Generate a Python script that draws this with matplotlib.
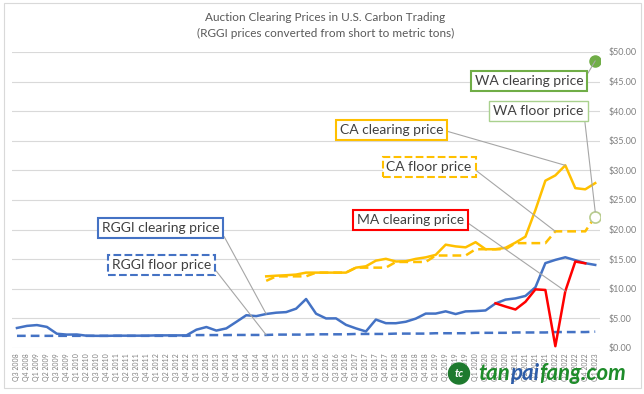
import matplotlib
matplotlib.use("Agg")
import matplotlib.pyplot as plt
import numpy as np
from matplotlib.patches import Rectangle, Circle
from matplotlib.offsetbox import TextArea, HPacker, AnchoredOffsetbox

plt.rcParams['font.family'] = ['Lato', 'DejaVu Sans']

# quarters Q3 2008 .. Q1 2023
quarters = []
for y in range(2008, 2024):
    for q in range(1, 5):
        if (y == 2008 and q < 3) or (y == 2023 and q > 1):
            continue
        quarters.append("Q%d %d" % (q, y))

# RGGI prices, $/metric ton
rggi_clear = [3.38, 3.73,
              3.87, 3.56, 2.41, 2.26,
              2.28, 2.07, 2.05, 2.05,
              2.08, 2.08, 2.08, 2.08,
              2.13, 2.13, 2.13, 2.13,
              3.09, 3.54, 2.94, 3.31,
              4.41, 5.53, 5.38, 5.74,
              5.96, 6.06, 6.64, 8.27,
              5.79, 4.99, 5.00, 3.91,
              3.31, 2.79, 4.80, 4.19,
              4.18, 4.43, 4.96, 5.81,
              5.81, 6.19, 5.73, 6.18,
              6.23, 6.34, 7.52, 8.17,
              8.38, 8.79, 10.25, 14.33,
              14.88, 15.32, 14.83, 14.32,
              14.03]
rggi_floor = [2.05] * 18 + [2.18] * 4 + [2.20] * 4 + [2.26] * 4 + [2.31] * 4 + \
             [2.37] * 4 + [2.43] * 4 + [2.49] * 4 + [2.56] * 4 + [2.62] * 4 + \
             [2.69] * 4 + [2.76]

# California (starts Q4 2014)
ca_start = 25
ca_clear = [12.10,
            12.21, 12.29, 12.40, 12.73,
            12.73, 12.73, 12.73, 12.73,
            13.57, 13.80, 14.75, 15.06,
            14.61, 14.65, 15.05, 15.31,
            15.73, 17.45, 17.16, 17.00,
            17.87, 16.68, 16.68, 16.92,
            17.80, 18.80, 23.30, 28.26,
            29.15, 30.85, 27.00, 26.80,
            27.85]
ca_floor = [11.34] + [12.10] * 4 + [12.73] * 4 + [13.57] * 4 + [14.53] * 4 + \
           [15.62] * 4 + [16.68] * 4 + [17.71] * 4 + [19.70] * 4 + [22.21]

# Massachusetts (starts Q3 2020)
ma_start = 48
ma_clear = [7.55, 7.0, 6.5, 7.8, 9.9, 9.8, 0.3, 9.6, 14.6, 14.3]

# Washington, Q1 2023
wa_clear = 48.50
wa_floor = 22.20

blue = '#4472c4'
yellow = '#ffc000'
red = '#ff0000'
green = '#70ad47'
txt = '#404040'

fig = plt.figure(figsize=(6.44, 3.94), dpi=100)
fig.patches.append(Rectangle((0.006, 0.015), 0.989, 0.978, transform=fig.transFigure,
                             fill=False, edgecolor='#d9d9d9', lw=0.8))
ax = fig.add_axes([0.0186, 0.1168, 0.9134, 0.7513])

x = np.arange(len(quarters))
x_ca = x[ca_start:ca_start + len(ca_clear)]
x_ma = x[ma_start:ma_start + len(ma_clear)]

ax.plot(x, rggi_floor, color=blue, lw=1.8, dashes=(3.5, 2))
ax.plot(x, rggi_clear, color=blue, lw=1.8)
ax.plot(x_ca, ca_floor, color=yellow, lw=1.8, dashes=(3.5, 2))
ax.plot(x_ca, ca_clear, color=yellow, lw=1.8)
ax.plot(x_ma, ma_clear, color=red, lw=1.8)
ax.plot(x[-1], wa_clear, 'o', color=green, ms=8)
ax.plot(x[-1], wa_floor, 'o', mfc='white', mec='#b8cc8e', mew=1.2, ms=8)

ax.set_xlim(-0.5, len(quarters) - 0.5)
ax.set_ylim(0, 50)
ax.set_yticks(np.arange(0, 51, 5))
ax.set_yticklabels(['$%.2f' % v for v in np.arange(0, 51, 5)])
ax.yaxis.tick_right()
ax.set_xticks(x)
ax.set_xticklabels(quarters, rotation=90)
ax.tick_params(axis='y', length=0, labelsize=6.5, labelcolor='#808080', pad=6)
ax.tick_params(axis='x', length=0, labelsize=5, labelcolor='#808080', pad=4)
ax.grid(axis='y', color='#d9d9d9', lw=0.8)
ax.set_axisbelow(True)
for s in ax.spines.values():
    s.set_visible(False)

fig.text(0.505, 0.955, "Auction Clearing Prices in U.S. Carbon Trading",
         ha='center', va='center', fontsize=8.5, color='#595959')
fig.text(0.505, 0.915, "(RGGI prices converted from short to metric tons)",
         ha='center', va='center', fontsize=8.5, color='#595959')

line = dict(arrowstyle='-', color='#a6a6a6', lw=0.8, relpos=(1, 0.5), shrinkA=0, shrinkB=0)


def label(text, xy, pos, ec, ls='-', lw=1.5):
    ax.annotate(text, xy=xy, xytext=pos, textcoords='axes fraction',
                ha='center', va='center', fontsize=10, color=txt,
                bbox=dict(boxstyle='square,pad=0.28', fc='white', ec=ec, lw=lw, ls=ls),
                arrowprops=line)


label("WA clearing price", (x[-1], wa_clear), (0.879, 0.902), green)
label("WA floor price", (x[-1], wa_floor + 0.8), (0.895, 0.801), '#a9d18e', lw=1)
label("CA clearing price", (55, ca_clear[55 - ca_start]), (0.645, 0.736), yellow)
label("CA floor price", (54, ca_floor[54 - ca_start]), (0.709, 0.611), yellow, ls='--')
label("MA clearing price", (55, ma_clear[55 - ma_start]), (0.677, 0.432), red)
label("RGGI clearing price", (25, rggi_clear[25]), (0.253, 0.405), blue)
label("RGGI floor price", (25, rggi_floor[25]), (0.255, 0.280), blue, ls='--')

# site watermark
fig.patches.append(Circle((4.59, 0.205), 0.105, transform=fig.dpi_scale_trans,
                          color='#1e7a2e'))
fig.text(4.59 / 6.44, 0.205 / 3.94, "tc", ha='center', va='center', fontsize=8,
         fontweight='bold', style='italic', color='white')
wm = dict(fontsize=16, fontweight='bold', style='italic')
parts = [TextArea("tan", textprops=dict(color='#1e8c2a', **wm)),
         TextArea("pai", textprops=dict(color='#2d5ca8', **wm)),
         TextArea("fang.com", textprops=dict(color='#1e8c2a', **wm))]
box = AnchoredOffsetbox(loc='center', child=HPacker(children=parts, pad=0, sep=0),
                        bbox_to_anchor=(0.857, 0.052), bbox_transform=fig.transFigure,
                        frameon=False, pad=0, borderpad=0)
fig.add_artist(box)

fig.savefig("out.png", dpi=100)
